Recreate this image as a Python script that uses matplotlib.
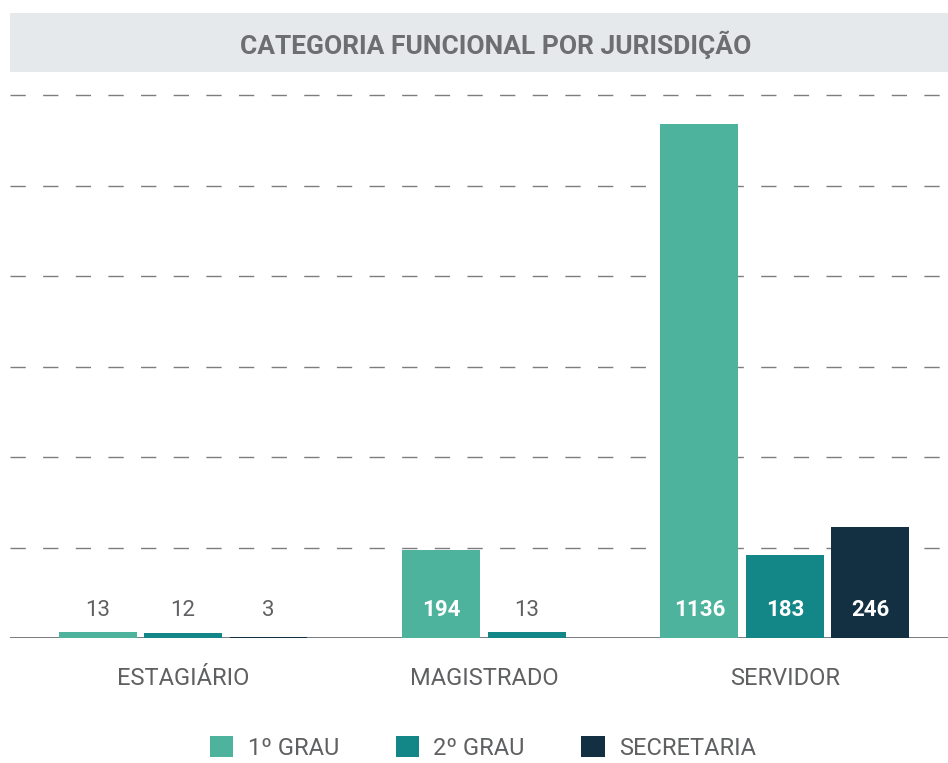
import numpy as np
import matplotlib
matplotlib.use("Agg")
import matplotlib.pyplot as plt
from matplotlib.patches import Rectangle

plt.rcParams['font.family'] = ['Roboto', 'DejaVu Sans']

title = "CATEGORIA FUNCIONAL POR JURISDIÇÃO"
categories = ["ESTAGIÁRIO", "MAGISTRADO", "SERVIDOR"]
series_names = ["1º GRAU", "2º GRAU", "SECRETARIA"]
grau1 = [13, 194, 1136]
grau2 = [12, 13, 183]
secretaria = [3, None, 246]
colors = ["#4db39c", "#138787", "#132f42"]
grid_values = [200, 400, 600, 800, 1000, 1200]

series = [grau1, grau2, secretaria]

fig = plt.figure(figsize=(9.48, 7.63), dpi=100)
fig.patch.set_facecolor("white")

# title bar
fig.add_artist(Rectangle((10/948, 1-72/763), 938/948, 59/763, transform=fig.transFigure,
                         facecolor="#e6e9ec", edgecolor="none"))
fig.text(496/948, 1-45/763, title, ha="center", va="center", fontsize=19,
         fontweight="bold", color="#6d6e71")

ax = fig.add_axes([10/948, 125/763, 938/948, 543/763])
ax.set_xlim(-0.575, 2.542)
ax.set_ylim(0, 1200)

bar_w = 0.259
step = 0.284
for ci, cat in enumerate(categories):
    present = [si for si in range(len(series)) if series[si][ci] is not None]
    n = len(present)
    for k, si in enumerate(present):
        v = series[si][ci]
        x = ci + (k - (n - 1) / 2) * step
        ax.bar(x, v, width=bar_w, color=colors[si], zorder=3,
               label=series_names[si] if ci == 2 else None)
        big = v > 100
        ax.annotate(str(v), (x, 0), xytext=(0, 20), textcoords="offset points",
                    ha="center", va="center", fontsize=16,
                    fontweight="bold" if big else "normal",
                    color="white" if big else "#5f6062", zorder=4)

for g in grid_values:
    ax.axhline(g, color="#7d7d7d", lw=1, linestyle=(0, (11, 12.5)), zorder=1, clip_on=False)
ax.axhline(0, color="#6d6e71", lw=2, zorder=2)

for s in ax.spines.values():
    s.set_visible(False)
ax.set_yticks([])
ax.set_xticks(range(len(categories)))
ax.set_xticklabels(categories, fontsize=17, color="#5f6062")
ax.tick_params(axis="x", length=0, pad=21)

handles, labels = ax.get_legend_handles_labels()
leg = fig.legend(handles, labels, loc="center", bbox_to_anchor=(483/948, 1-748/763),
                 ncol=3, frameon=False, fontsize=17, handlelength=1.0, handleheight=1.0,
                 handletextpad=0.6, columnspacing=2.4, borderpad=0.0)
for t in leg.get_texts():
    t.set_color("#5f6062")

fig.savefig("out.png", dpi=100, facecolor="white")
